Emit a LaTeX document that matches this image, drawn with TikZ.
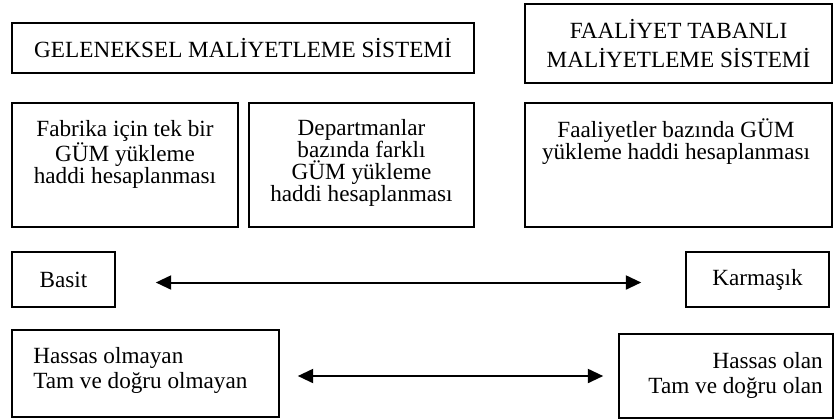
\documentclass[tikz,border=0pt]{standalone}
\usepackage{fontspec}
\setmainfont{Liberation Serif}
\usetikzlibrary{arrows.meta}

\newcommand\pxl{0.75pt}
\tikzset{
  box/.style={draw, line width=1.2pt, inner sep=0pt, font=\fontsize{17.4}{16.5}\selectfont},
  txt/.style={inner sep=0pt, font=\fontsize{17.4}{16.5}\selectfont},
  arr/.style={line width=1.5pt, {Triangle[length=11.5pt,width=10.5pt]}-{Triangle[length=11.5pt,width=10.5pt]}}
}

\begin{document}
\begin{tikzpicture}[x=\pxl, y=-\pxl]
\useasboundingbox (0,0) rectangle (834,419);

% system headings
\node[box, minimum width=462*\pxl, minimum height=50*\pxl] (gelen) at (243,48) {GELENEKSEL MALİYETLEME SİSTEMİ};
\node[box, align=center, minimum width=307*\pxl, minimum height=79*\pxl, font=\fontsize{17.4}{21.75}\selectfont] (faal) at (678.5,43.5) {FAALİYET TABANLI\\MALİYETLEME SİSTEMİ};

% overhead rate boxes
\node[box, minimum width=226*\pxl, minimum height=124*\pxl] (fabrika) at (125,165) {};
\node[box, minimum width=225*\pxl, minimum height=124*\pxl] (depart) at (361.5,165) {};
\node[box, minimum width=307*\pxl, minimum height=124*\pxl] (faalbaz) at (678.5,165) {};

\node[txt, align=center, anchor=north] (fabrikaTxt) at (125,120) {Fabrika için tek bir\\GÜM yükleme\\haddi hesaplanması};
\node[txt, align=center, anchor=north] (departTxt) at (361.5,119.5) {Departmanlar\\bazında farklı\\GÜM yükleme\\haddi hesaplanması};
\node[txt, align=center, anchor=north] (faalbazTxt) at (676,118.5) {Faaliyetler bazında GÜM\\yükleme haddi hesaplanması};

% simple vs complex
\node[box, minimum width=103*\pxl, minimum height=55*\pxl] (basit) at (63.5,279.5) {Basit};
\node[box, minimum width=143*\pxl, minimum height=55*\pxl] (karmasik) at (757.5,279.5) {Karmaşık};
\draw[arr, shorten <=40*\pxl, shorten >=44*\pxl] ([yshift=-3*\pxl]basit.east) -- ([yshift=-3*\pxl]karmasik.west);

% accuracy
\node[box, minimum width=267*\pxl, minimum height=87*\pxl] (olmayan) at (145.5,373.5) {};
\node[box, minimum width=214*\pxl, minimum height=84*\pxl] (olan) at (726,376) {};
\node[txt, align=left, anchor=north west, font=\fontsize{17.4}{18.75}\selectfont] (olmayanTxt) at (33,347) {Hassas olmayan\\Tam ve doğru olmayan};
\node[txt, align=right, anchor=north east, font=\fontsize{17.4}{18.75}\selectfont] (olanTxt) at (823,352) {Hassas olan\\Tam ve doğru olan};
\draw[arr, shorten <=18*\pxl, shorten >=15*\pxl] ([yshift=-2.5*\pxl]olmayan.east) -- (olan.west);

\end{tikzpicture}
\end{document}
